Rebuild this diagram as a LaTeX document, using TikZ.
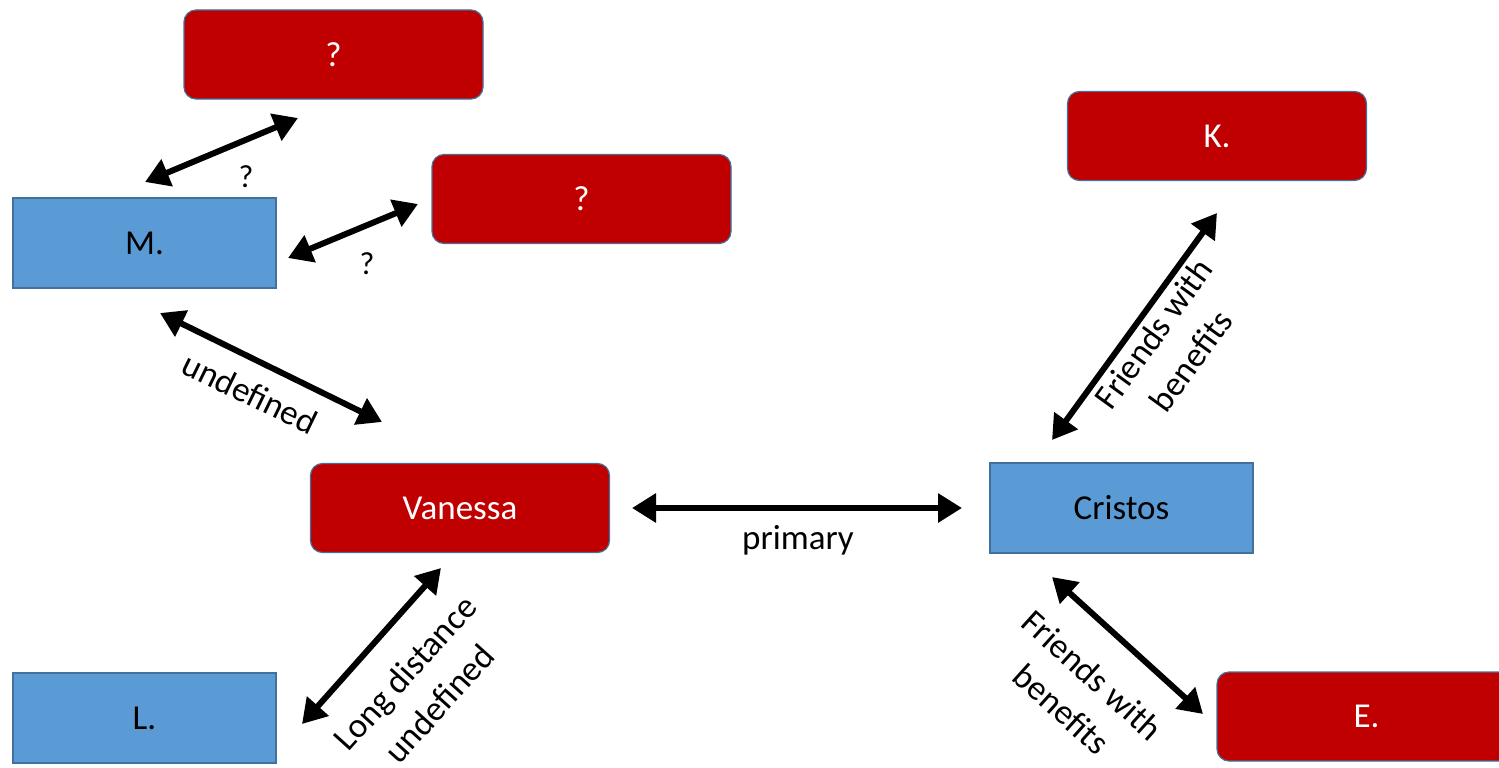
\documentclass[tikz,border=0pt]{standalone}
\usepackage{fontspec}
\setmainfont{Carlito}
\usetikzlibrary{arrows.meta}
\definecolor{bred}{HTML}{C00000}
\definecolor{bblue}{HTML}{5B9BD5}
\definecolor{bline}{HTML}{41719C}
\tikzset{
  redbox/.style={draw=bline, line width=1.2pt, fill=bred, rounded corners=12pt, minimum width=299pt, minimum height=89pt, text=white, inner sep=0pt, font=\fontsize{35}{40}\selectfont},
  bluebox/.style={draw=bline, line width=1.2pt, fill=bblue, minimum width=263pt, minimum height=90pt, text=black, inner sep=0pt, font=\fontsize{35}{40}\selectfont},
  link/.style={line width=6pt, {Triangle[length=24pt,width=28pt]}-{Triangle[length=24pt,width=28pt]}},
  lbl/.style={font=\fontsize{35}{46}\selectfont, align=center, inner sep=0pt},
  qlbl/.style={font=\fontsize{32}{36}\selectfont, inner sep=0pt}
}
\begin{document}
\begin{tikzpicture}[x=1pt,y=-1pt]
\useasboundingbox (0,0) rectangle (1499,768);
\node[redbox] (q1) at (333.5,54.5) {?};
\node[redbox] (q2) at (581.5,199) {?};
\node[redbox] (K) at (1217,136) {K.};
\node[bluebox] (M) at (144.5,243) {M.};
\node[redbox] (V) at (460,508) {Vanessa};
\node[bluebox] (C) at (1121.5,508) {Cristos};
\node[bluebox] (L) at (144.5,718) {L.};
\node[redbox] (E) at (1366.5,716.5) {E.};

\coordinate (mq1a) at (145,182); \coordinate (mq1b) at (298,118);
\coordinate (mq2a) at (288,258); \coordinate (mq2b) at (418,204);
\coordinate (mva) at (160,313);  \coordinate (mvb) at (382,422);
\coordinate (vca) at (632,508);  \coordinate (vcb) at (962,508);
\coordinate (vla) at (441,568);  \coordinate (vlb) at (302,724);
\coordinate (cka) at (1052,440); \coordinate (ckb) at (1217,213);
\coordinate (cea) at (1052,577); \coordinate (ceb) at (1203,714);

\draw[link] (mq1a) -- (mq1b);
\draw[link] (mq2a) -- (mq2b);
\draw[link] (mva) -- (mvb);
\draw[link] (vca) -- (vcb);
\draw[link] (vla) -- (vlb);
\draw[link] (cka) -- (ckb);
\draw[link] (cea) -- (ceb);

\node[qlbl] (l1) at (246,177) {?};
\node[qlbl] (l2) at (367,264) {?};
\node[lbl, rotate=-26] (l3) at (250,393) {undefined};
\node[lbl] (l4) at (798,540) {primary};
\node[lbl, rotate=48] (l5) at (422,688) {Long distance\\undefined};
\node[lbl, rotate=54] (l6) at (1172,347) {Friends with\\benefits};
\node[lbl, rotate=-42] (l7) at (1077,692) {Friends with\\benefits};
\end{tikzpicture}
\end{document}
